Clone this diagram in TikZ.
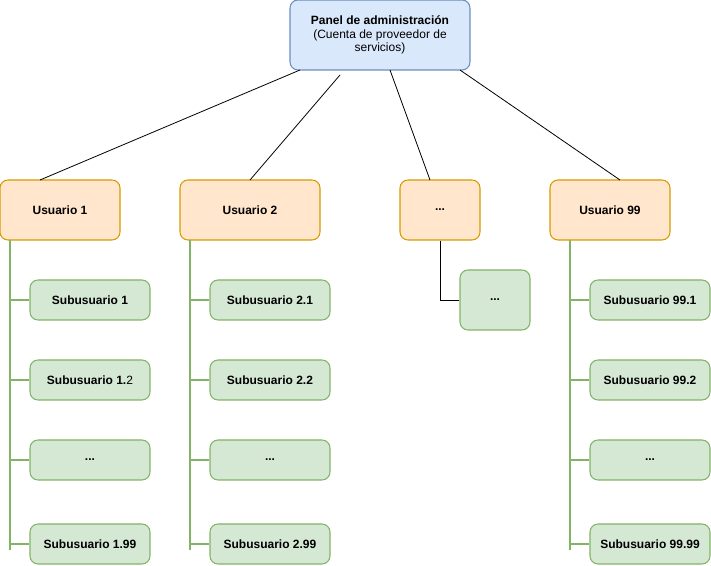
\documentclass[tikz,border=0pt]{standalone}
\usepackage{fontspec}
\setmainfont{Liberation Sans}
\begin{document}
\begin{tikzpicture}[x=0.75pt,y=-0.75pt,
  box/.style={rounded corners=6pt,line width=0.8pt,align=center,font=\fontsize{9}{11}\selectfont\bfseries,inner sep=0pt},
  top/.style={box,fill={rgb,255:red,218;green,232;blue,252},draw={rgb,255:red,108;green,142;blue,191}},
  usr/.style={box,fill={rgb,255:red,255;green,230;blue,204},draw={rgb,255:red,215;green,155;blue,0}},
  sub/.style={box,fill={rgb,255:red,213;green,232;blue,212},draw={rgb,255:red,130;green,179;blue,102},minimum width=90pt,minimum height=30pt},
  gl/.style={draw={rgb,255:red,130;green,179;blue,102},line width=0.8pt},
  bl/.style={draw=black,line width=0.6pt}]
\useasboundingbox (0,0) rectangle (711,566);
\node[top,minimum width=135pt,minimum height=52.5pt] (t) at (380,35) {Panel de administración\\[-1pt]{\mdseries (Cuenta de proveedor de}\\[-1pt]{\mdseries servicios)}};
\node[usr,minimum width=90pt,minimum height=45pt] (u1) at (60,210) {Usuario 1};
\node[usr,minimum width=105pt,minimum height=45pt] (u2) at (250,210) {Usuario 2};
\node[usr,minimum width=60pt,minimum height=45pt] (u3) at (440,210) {...};
\node[usr,minimum width=90pt,minimum height=45pt] (u4) at (610,210) {Usuario 99};
\coordinate (p1) at (300,70); \coordinate (p2) at (340,75); \coordinate (p3) at (390,70); \coordinate (p4) at (460,70);
\coordinate (q1) at (40,180); \coordinate (q2) at (250,180); \coordinate (q3) at (430,180); \coordinate (q4) at (620,180);
\draw[bl] (p1)--(q1); \draw[bl] (p2)--(q2); \draw[bl] (p3)--(q3); \draw[bl] (p4)--(q4);
\node[sub] (s11) at (90,300) {Subusuario 1};
\node[sub] (s12) at (90,380) {Subusuario 1.{\mdseries 2}};
\node[sub] (s13) at (90,460) {...};
\node[sub] (s14) at (90,544) {Subusuario 1.99};
\node[sub] (s21) at (270,300) {Subusuario 2.1};
\node[sub] (s22) at (270,380) {Subusuario 2.2};
\node[sub] (s23) at (270,460) {...};
\node[sub] (s24) at (270,544) {Subusuario 2.99};
\node[sub] (s41) at (650,300) {Subusuario 99.1};
\node[sub] (s42) at (650,380) {Subusuario 99.2};
\node[sub] (s43) at (650,460) {...};
\node[sub] (s44) at (650,544) {Subusuario 99.99};
\foreach \c/\l in {1/10,2/190,4/570}{
  \foreach \i in {1,2,3,4}{ \draw[gl] (s\c\i.west) -- (s\c\i.west -| \l,0); }
  \draw[gl] (\l,240) -- (\l,550);
}
\node[sub,minimum width=52.5pt,minimum height=45pt] (s3) at (495,300) {...};
\draw[bl] (u3.south) -- (440,300) -- (s3.west);
\end{tikzpicture}
\end{document}
